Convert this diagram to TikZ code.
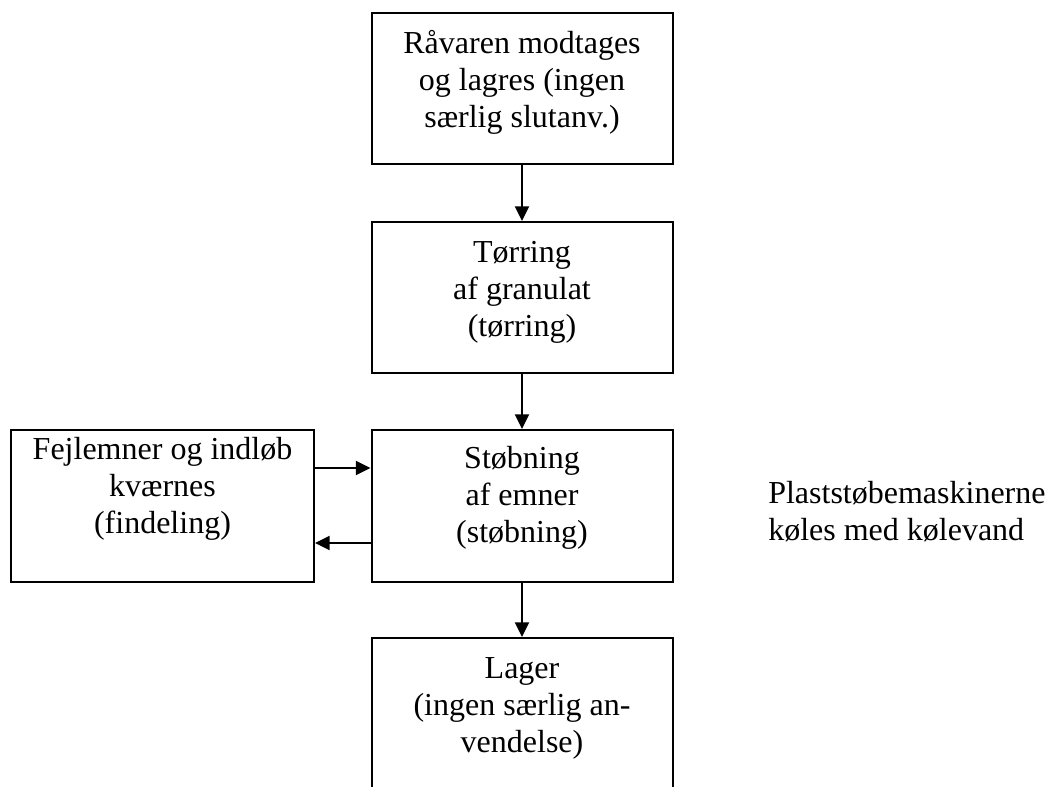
\documentclass[tikz,border=0pt]{standalone}
\usepackage{fontspec}
\setmainfont{Liberation Serif}
\usetikzlibrary{arrows.meta}
\begin{document}
\begin{tikzpicture}[x=0.75pt,y=-0.75pt,
  box/.style={draw=black, line width=1.5pt, rectangle, inner sep=0pt,
    minimum width=225.75pt, minimum height=113.25pt},
  txt/.style={anchor=north, align=center, inner sep=0pt,
    font=\fontsize{24}{28}\selectfont},
  arr/.style={line width=1.5pt, -{Triangle[length=11pt,width=10.5pt]}}]
\useasboundingbox (0,0) rectangle (1050,786);

% process boxes
\node[box] (raw) at (522,88.5) {};
\node[box] (dry) at (522,297.5) {};
\node[box, minimum height=114pt] (mould) at (522,506) {};
\node[box, minimum height=114pt] (store) at (522,714) {};
\node[box, minimum width=227.25pt, minimum height=114pt] (grind) at (162.5,506) {};

% box texts
\node[txt] (rawtxt) at (522,26.9) {\strut Råvaren modtages\\og lagres (ingen\\særlig slutanv.)};
\node[txt] (drytxt) at (522,235.9) {\strut Tørring\\af granulat\\(tørring)};
\node[txt] (mouldtxt) at (522,441.9) {\strut Støbning\\af emner\\(støbning)};
\node[txt] (storetxt) at (522,651.9) {\strut Lager\\(ingen særlig an-\\vendelse)};
\node[txt] (grindtxt) at (162.5,432.9) {\strut Fejlemner og indløb\\kværnes\\(findeling)};

% side note
\node[txt, anchor=north west, align=left] (cool) at (768,476.9) {\strut Plaststøbemaskinerne\\køles med kølevand};

% connectors
\draw[arr] (raw) -- (dry);
\draw[arr] (dry) -- (mould);
\draw[arr] (mould) -- (store);
\draw[arr] ([yshift=28.5pt]grind.east) -- ([yshift=28.5pt]mould.west);
\draw[arr] ([yshift=-27.75pt]mould.west) -- ([yshift=-27.75pt]grind.east);
\end{tikzpicture}
\end{document}
